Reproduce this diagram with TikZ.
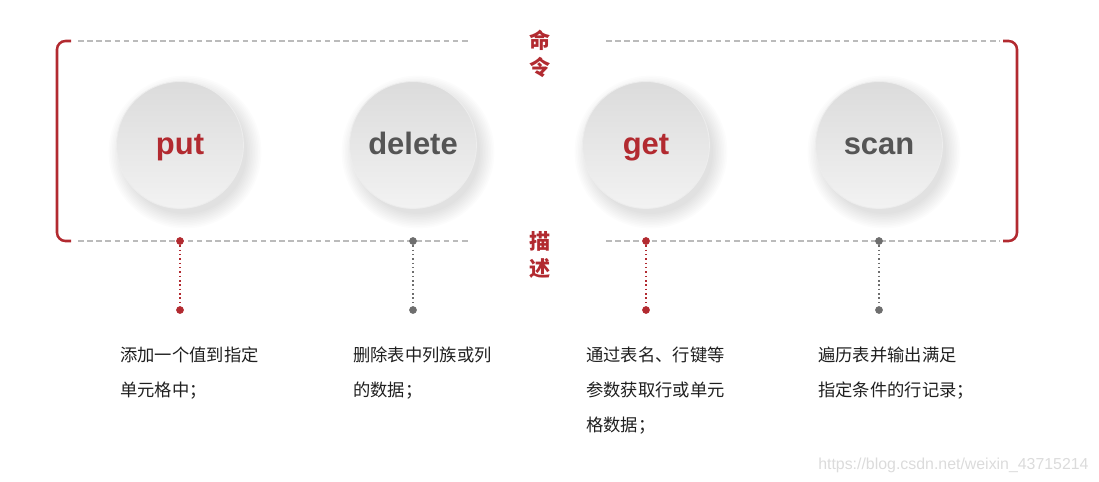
\documentclass[tikz,border=0pt]{standalone}
\usepackage{fontspec}
\setmainfont{Liberation Sans}
\newfontfamily\cjk{Noto Sans CJK SC}
\usetikzlibrary{calc}
\definecolor{cmdred}{HTML}{B22A30}
\definecolor{cmdgray}{HTML}{555555}
\definecolor{dotgray}{HTML}{6E6E6E}
\definecolor{rulegray}{HTML}{BBBBBB}

\begin{document}
\begin{tikzpicture}[x=0.025cm,y=-0.025cm,
      btn/.style={circle,minimum size=3.17cm,inner sep=0pt,top color=black!14,bottom color=black!5,
        draw=black!7,line width=0.6pt,text height=14.2pt,text depth=0pt,
        font=\fontsize{22}{24}\selectfont\bfseries},
      dot/.style={circle,inner sep=0pt,minimum size=5.5pt},
      link/.style={dotted,line width=1.1pt},
      rule/.style={rulegray,line width=0.8pt,dash pattern=on 4pt off 2.5pt},
      brace/.style={cmdred,line width=1.8pt,rounded corners=6pt},
      tag/.style={cmdred,align=center,font=\cjk\bfseries\fontsize{15}{19.5}\selectfont},
      desc/.style={anchor=north west,inner sep=0pt,align=left,text=black!88,
        font=\cjk\fontsize{12.3}{24.9}\selectfont}]
    \useasboundingbox (0,0) rectangle (1099,481);
    % brackets
    \draw[brace] (71,41) -- (57,41) -- (57,241) -- (71,241);
    \draw[brace] (1003,41) -- (1017,41) -- (1017,241) -- (1003,241);
    % dashed rules
    \draw[rule] (78,41) -- (468,41);
    \draw[rule] (606,41) -- (1000,41);
    \draw[rule] (78,241) -- (468,241);
    \draw[rule] (606,241) -- (1000,241);
    % side tags
    \node[tag] (cmd) at (540,54) {命\\令};
    \node[tag] (dsc) at (540,255) {描\\述};
    % command buttons with soft shadow
    \foreach \n/\x/\c/\d in {put/180/cmdred/cmdred,delete/413/cmdgray/dotgray,get/646/cmdred/cmdred,scan/879/cmdgray/dotgray}
    {
      \foreach \k in {0,...,9}
        \fill[black,opacity=0.012] (\x+5,152) circle[radius={(62+\k*1.6)*0.025cm}];
      \node[btn,text=\c] (\n) at (\x,145) {\n};
      \node[dot,fill=\d] (\n-a) at (\x,241) {};
      \node[dot,fill=\d] (\n-b) at (\x,310) {};
      \draw[link,\d] (\n-a) -- (\n-b);
    }
    % descriptions
    \node[desc] (put-t) at (120,347) {添加一个值到指定\\单元格中；};
    \node[desc] (delete-t) at (353,347) {删除表中列族或列\\的数据；};
    \node[desc] (get-t) at (586,347) {通过表名、行键等\\参数获取行或单元\\格数据；};
    \node[desc] (scan-t) at (818,347) {遍历表并输出满足\\指定条件的行记录；};
    % watermark
    \node[anchor=base west,inner sep=0pt,text=black!14,font=\fontsize{11.3}{13}\selectfont] (mark) at (818,469) {https://blog.csdn.net/weixin\_43715214};
  \end{tikzpicture}
\end{document}
